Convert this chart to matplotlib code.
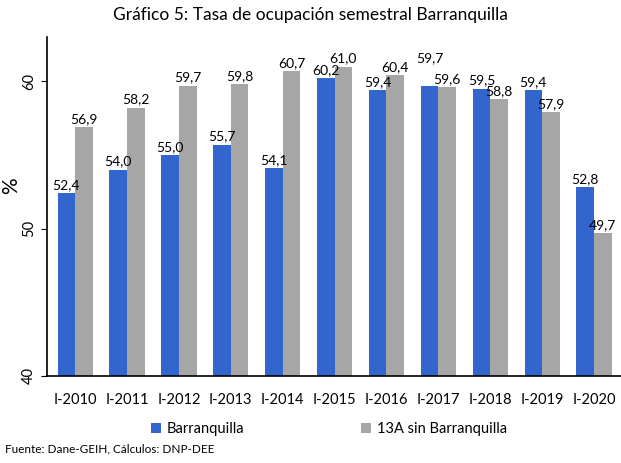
import matplotlib
matplotlib.use('Agg')
import matplotlib.pyplot as plt
import numpy as np

periodos = ['I-2010', 'I-2011', 'I-2012', 'I-2013', 'I-2014', 'I-2015',
            'I-2016', 'I-2017', 'I-2018', 'I-2019', 'I-2020']
barranquilla = [52.4, 54.0, 55.0, 55.7, 54.1, 60.2, 59.4, 59.7, 59.5, 59.4, 52.8]
sin_barranquilla = [56.9, 58.2, 59.7, 59.8, 60.7, 61.0, 60.4, 59.6, 58.8, 57.9, 49.7]

plt.rcParams['font.family'] = ['Lato', 'DejaVu Sans']

fig = plt.figure(figsize=(6.21, 4.63), dpi=100)
ax = fig.add_axes([0.076, 0.188, 0.924, 0.732])

x = np.arange(len(periodos))
w = 0.34
b1 = ax.bar(x - w / 2, barranquilla, width=w, color='#3366CC', label='Barranquilla', zorder=2)
b2 = ax.bar(x + w / 2, sin_barranquilla, width=w, color='#A6A6A6', label='13A sin Barranquilla', zorder=2)

# etiquetas con coma decimal; la de I-2017 va más arriba para no chocar
for k, (bars, vals) in enumerate([(b1, barranquilla), (b2, sin_barranquilla)]):
    for i, (r, v) in enumerate(zip(bars, vals)):
        extra = 1.3 if (k == 0 and i == 7) else 0
        ax.text(r.get_x() + r.get_width() / 2, v + 0.15 + extra, f'{v:.1f}'.replace('.', ','),
                ha='center', va='bottom', fontsize=10)

ax.set_ylim(40, 63)
ax.set_xlim(-0.54, 10.52)
ax.set_yticks([40, 50, 60])
ax.set_xticks(x)
ax.set_xticklabels(periodos, fontsize=10.5)
for lbl in ax.get_yticklabels():
    lbl.set_rotation(90)
    lbl.set_va('center')
    lbl.set_fontsize(10.5)
ax.tick_params(axis='x', length=0, pad=12)
ax.tick_params(axis='y', length=4, pad=4)
ax.spines['top'].set_visible(False)
ax.spines['right'].set_visible(False)
ax.spines['left'].set_linewidth(1.2)
ax.spines['bottom'].set_linewidth(1.2)
ax.set_ylabel('%', fontsize=15)
ax.yaxis.set_label_coords(-0.045, 0.56)

fig.suptitle('Gráfico 5: Tasa de ocupación semestral Barranquilla', fontsize=12.5, y=0.985)

fig.legend(loc='center', bbox_to_anchor=(0.53, 0.073), ncol=2, frameon=False,
           fontsize=10.5, handlelength=0.7, handleheight=0.7, handletextpad=0.4,
           columnspacing=8)

fig.text(0.008, 0.023, 'Fuente: Dane-GEIH, Cálculos: DNP-DEE', fontsize=8.5)

fig.savefig('out.png', dpi=100)
